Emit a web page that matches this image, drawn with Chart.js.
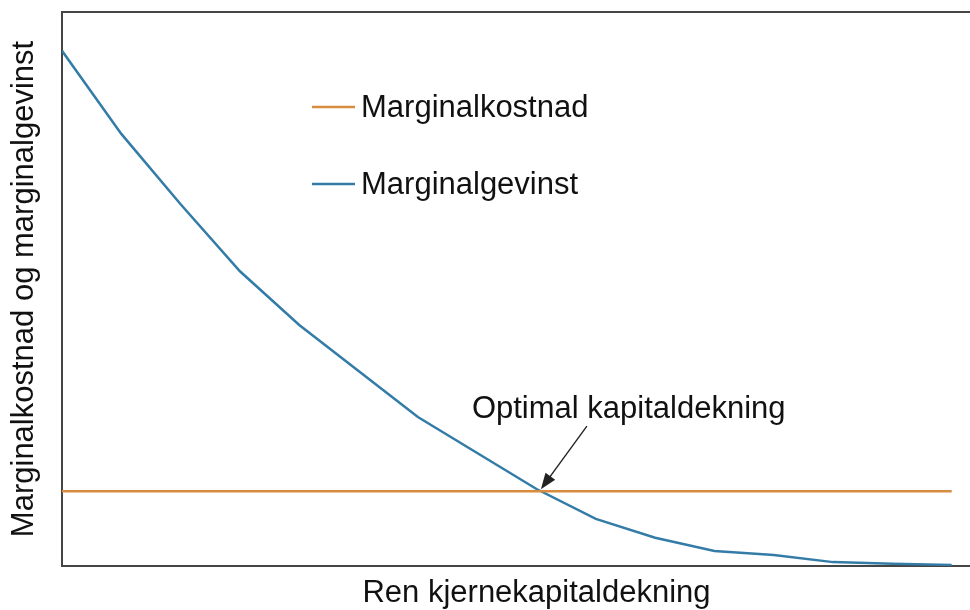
<!DOCTYPE html>
<html>
<head>
<meta charset="utf-8">
<script src="https://cdn.jsdelivr.net/npm/chart.js@4/dist/chart.umd.min.js"></script>
<style>
  html, body { margin: 0; padding: 0; background: #ffffff; overflow: hidden; }
  #wrap { width: 970px; height: 610px; overflow: hidden; position: relative; }
  canvas { display: block; }
</style>
</head>
<body>
<div id="wrap"><canvas id="c" width="1011" height="610"></canvas></div>
<script>
// ---- Data (axis is unitless) ----
const xSteps = [0, 1, 2, 3, 4, 5, 6, 7, 8, 9, 10, 11, 12, 13, 14, 15];
const gainValues = [93, 78, 65.3, 53.2, 43.5, 35.2, 26.9, 20.4, 13.9, 8.5, 5.1, 2.7, 2.0, 0.7, 0.4, 0.2];
const costValues = [13.5, 13.5, 13.5, 13.5, 13.5, 13.5, 13.5, 13.5, 13.5, 13.5, 13.5, 13.5, 13.5, 13.5, 13.5, 13.5];
const seriesNames = ['Marginalkostnad', 'Marginalgevinst'];
const xTitle = 'Ren kjernekapitaldekning';
const yTitle = 'Marginalkostnad og marginalgevinst';
const annotationText = 'Optimal kapitaldekning';

const FONT = '"Liberation Sans", Arial, Helvetica, sans-serif';
const FS = 31;
const ORANGE = '#d88c3f';
const BLUE = '#337ca7';
const AXIS = '#454545';

const toPts = (vals) => xSteps.map((x, i) => ({ x: x, y: vals[i] }));

// Custom legend drawn inside the plot area (vertical list)
const insideLegend = {
  id: 'insideLegend',
  afterDatasetsDraw(chart) {
    const { ctx, chartArea } = chart;
    const order = [0, 1];
    ctx.save();
    order.forEach((di, k) => {
      const ds = chart.data.datasets[di];
      const y = chartArea.top + 95 + k * 77;
      const x0 = chartArea.left + 250;
      ctx.strokeStyle = ds.borderColor;
      ctx.lineWidth = 2.5;
      ctx.beginPath();
      ctx.moveTo(x0, y);
      ctx.lineTo(x0 + 43, y);
      ctx.stroke();
      ctx.fillStyle = '#111';
      ctx.font = FS + 'px ' + FONT;
      ctx.textAlign = 'left';
      ctx.textBaseline = 'middle';
      ctx.fillText(ds.label, x0 + 49, y + 1);
    });
    ctx.restore();
  }
};

// Arrow annotation pointing to the intersection of the two curves
const crossAnnotation = {
  id: 'crossAnnotation',
  afterDatasetsDraw(chart) {
    const { ctx } = chart;
    const xs = chart.scales.x, ys = chart.scales.y;
    let xc = null, yc = null;
    for (let i = 0; i < xSteps.length - 1; i++) {
      const d0 = gainValues[i] - costValues[i];
      const d1 = gainValues[i + 1] - costValues[i + 1];
      if (d0 >= 0 && d1 < 0) {
        const t = d0 / (d0 - d1);
        xc = xSteps[i] + t * (xSteps[i + 1] - xSteps[i]);
        yc = costValues[i] + t * (costValues[i + 1] - costValues[i]);
        break;
      }
    }
    if (xc === null) return;
    const tx = xs.getPixelForValue(xc);
    const ty = ys.getPixelForValue(yc) - 2;
    const sx = tx + 46, sy = ty - 63;
    const ang = Math.atan2(ty - sy, tx - sx);
    const hl = 16, hw = 6;
    ctx.save();
    ctx.strokeStyle = '#222';
    ctx.fillStyle = '#222';
    ctx.lineWidth = 1.4;
    ctx.beginPath();
    ctx.moveTo(sx, sy);
    ctx.lineTo(tx - Math.cos(ang) * (hl - 2), ty - Math.sin(ang) * (hl - 2));
    ctx.stroke();
    const bx = tx - Math.cos(ang) * hl, by = ty - Math.sin(ang) * hl;
    ctx.beginPath();
    ctx.moveTo(tx, ty);
    ctx.lineTo(bx + Math.sin(ang) * hw, by - Math.cos(ang) * hw);
    ctx.lineTo(bx - Math.sin(ang) * hw, by + Math.cos(ang) * hw);
    ctx.closePath();
    ctx.fill();
    ctx.fillStyle = '#111';
    ctx.font = FS + 'px ' + FONT;
    ctx.textAlign = 'left';
    ctx.textBaseline = 'middle';
    ctx.fillText(annotationText, tx - 69, ty - 80);
    ctx.restore();
  }
};

new Chart(document.getElementById('c'), {
  type: 'line',
  data: {
    datasets: [
      {
        label: seriesNames[0],
        data: toPts(costValues),
        borderColor: ORANGE,
        backgroundColor: ORANGE,
        borderWidth: 2.5,
        pointRadius: 0,
        tension: 0,
        xAxisID: 'x',
        yAxisID: 'y'
      },
      {
        label: seriesNames[1],
        data: toPts(gainValues),
        borderColor: BLUE,
        backgroundColor: BLUE,
        borderWidth: 2.5,
        pointRadius: 0,
        tension: 0,
        xAxisID: 'x',
        yAxisID: 'y'
      }
    ]
  },
  options: {
    responsive: false,
    animation: false,
    devicePixelRatio: 1,
    layout: { padding: 0 },
    plugins: {
      legend: { display: false },
      tooltip: { enabled: false }
    },
    scales: {
      x: {
        type: 'linear',
        position: 'bottom',
        min: 0,
        max: 16,
        grid: { display: false },
        border: { display: true, color: AXIS, width: 2 },
        ticks: { display: false },
        title: {
          display: true,
          text: xTitle,
          color: '#111',
          font: { family: FONT, size: FS, lineHeight: 1 },
          padding: { top: 0, bottom: 1 }
        },
        afterFit(scale) { scale.height = 44; }
      },
      xTop: {
        type: 'linear',
        position: 'top',
        min: 0,
        max: 16,
        grid: { display: false },
        border: { display: true, color: AXIS, width: 2 },
        ticks: { display: false },
        afterFit(scale) { scale.height = 12; }
      },
      y: {
        type: 'linear',
        position: 'left',
        min: 0,
        max: 100,
        grid: { display: false },
        border: { display: true, color: AXIS, width: 2 },
        ticks: { display: false },
        title: {
          display: true,
          text: yTitle,
          color: '#111',
          font: { family: FONT, size: FS, lineHeight: 1 },
          padding: { top: 9, bottom: 0 }
        },
        afterFit(scale) { scale.width = 62; }
      }
    }
  },
  plugins: [insideLegend, crossAnnotation]
});
</script>
</body>
</html>
